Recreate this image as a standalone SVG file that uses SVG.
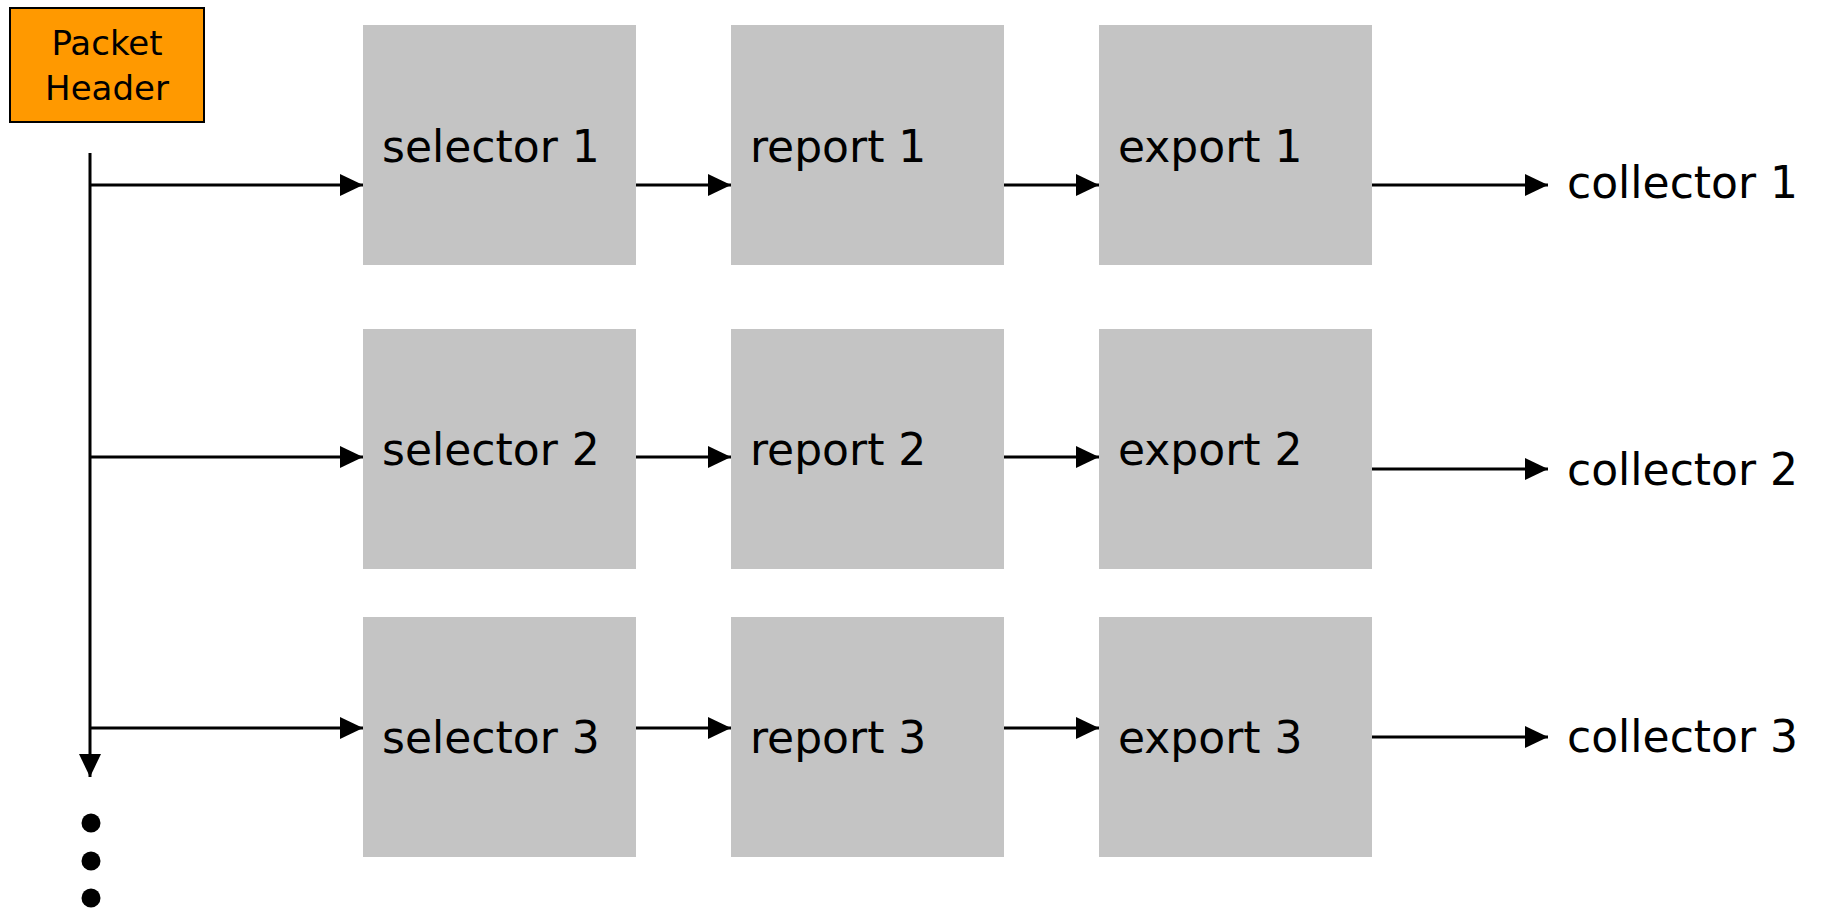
<svg xmlns="http://www.w3.org/2000/svg" width="1827" height="908" viewBox="0 0 1827 908">
<defs>
<style>
.box{fill:#c4c4c4;stroke:none}
.lbl{font-family:"DejaVu Sans",sans-serif;font-size:44px;fill:#000}
.hdr{font-family:"DejaVu Sans",sans-serif;font-size:34px;fill:#000;text-anchor:middle}
.ln{stroke:#000;stroke-width:3;fill:none}
</style>
<marker id="ah" markerWidth="23" markerHeight="22" refX="23" refY="11" orient="auto" markerUnits="userSpaceOnUse">
<path d="M0,0 L23,11 L0,22 Z" fill="#000"/>
</marker>
</defs>
<rect width="1827" height="908" fill="#fff"/>
<g id="packet-header">
<rect x="10" y="8" width="194" height="114" fill="#ff9900" stroke="#000" stroke-width="2"/>
<text class="hdr" x="107" y="55">Packet</text>
<text class="hdr" x="107" y="100">Header</text>
</g>
<g id="selector1"><rect class="box" x="363" y="25" width="273" height="240"/><text class="lbl" x="382" y="162">selector 1</text></g>
<g id="report1"><rect class="box" x="731" y="25" width="273" height="240"/><text class="lbl" x="750" y="162">report 1</text></g>
<g id="export1"><rect class="box" x="1099" y="25" width="273" height="240"/><text class="lbl" x="1118" y="162">export 1</text></g>
<g id="selector2"><rect class="box" x="363" y="329" width="273" height="240"/><text class="lbl" x="382" y="465">selector 2</text></g>
<g id="report2"><rect class="box" x="731" y="329" width="273" height="240"/><text class="lbl" x="750" y="465">report 2</text></g>
<g id="export2"><rect class="box" x="1099" y="329" width="273" height="240"/><text class="lbl" x="1118" y="465">export 2</text></g>
<g id="selector3"><rect class="box" x="363" y="617" width="273" height="240"/><text class="lbl" x="382" y="753">selector 3</text></g>
<g id="report3"><rect class="box" x="731" y="617" width="273" height="240"/><text class="lbl" x="750" y="753">report 3</text></g>
<g id="export3"><rect class="box" x="1099" y="617" width="273" height="240"/><text class="lbl" x="1118" y="753">export 3</text></g>
<g id="collector1"><text class="lbl" x="1567" y="198">collector 1</text></g>
<g id="collector2"><text class="lbl" x="1567" y="485">collector 2</text></g>
<g id="collector3"><text class="lbl" x="1567" y="752">collector 3</text></g>
<g id="ellipsis" fill="#000">
<circle cx="91" cy="823" r="9.5"/>
<circle cx="91" cy="861" r="9.5"/>
<circle cx="91" cy="898" r="9.5"/>
</g>
<g id="connectors" class="ln">
<line class="ln" x1="90" y1="153" x2="90" y2="777" marker-end="url(#ah)"/>
<line class="ln" x1="90" y1="185" x2="363" y2="185" marker-end="url(#ah)"/>
<line class="ln" x1="90" y1="457" x2="363" y2="457" marker-end="url(#ah)"/>
<line class="ln" x1="90" y1="728" x2="363" y2="728" marker-end="url(#ah)"/>
<line class="ln" x1="636" y1="185" x2="731" y2="185" marker-end="url(#ah)"/>
<line class="ln" x1="1004" y1="185" x2="1099" y2="185" marker-end="url(#ah)"/>
<line class="ln" x1="636" y1="457" x2="731" y2="457" marker-end="url(#ah)"/>
<line class="ln" x1="1004" y1="457" x2="1099" y2="457" marker-end="url(#ah)"/>
<line class="ln" x1="636" y1="728" x2="731" y2="728" marker-end="url(#ah)"/>
<line class="ln" x1="1004" y1="728" x2="1099" y2="728" marker-end="url(#ah)"/>
<line class="ln" x1="1372" y1="185" x2="1548" y2="185" marker-end="url(#ah)"/>
<line class="ln" x1="1372" y1="469" x2="1548" y2="469" marker-end="url(#ah)"/>
<line class="ln" x1="1372" y1="737" x2="1548" y2="737" marker-end="url(#ah)"/>
</g>
</svg>
